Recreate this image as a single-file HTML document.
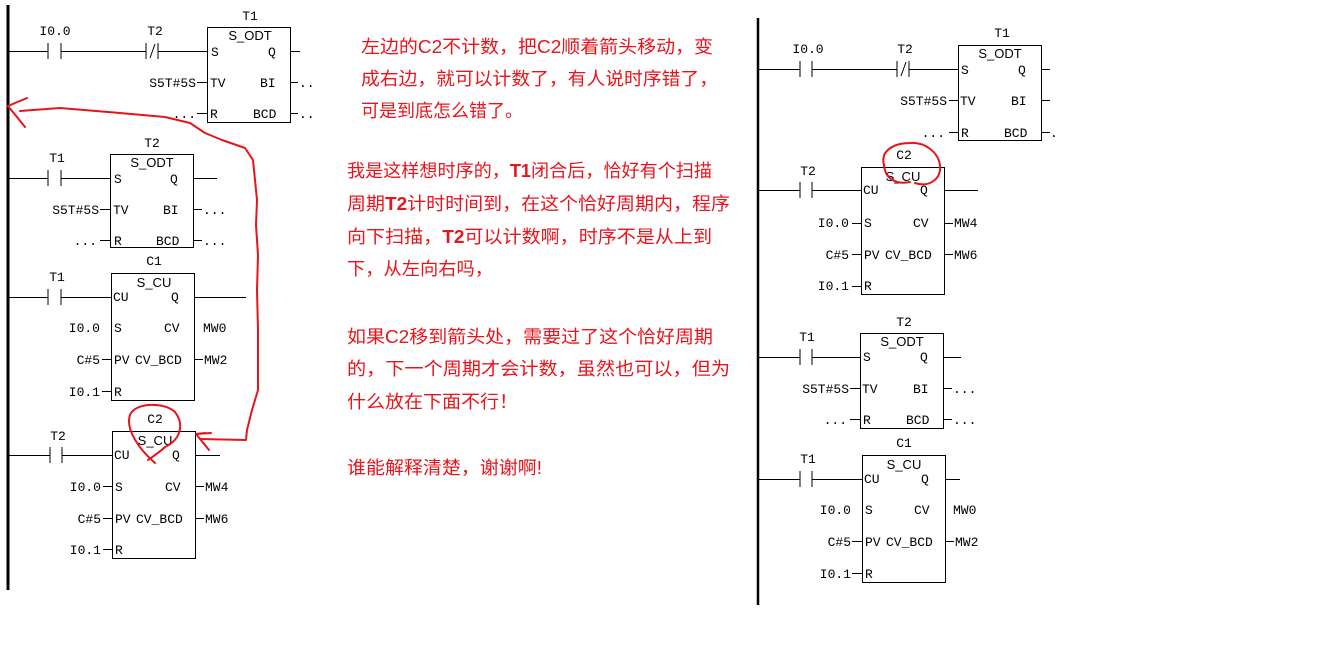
<!DOCTYPE html>
<html><head><meta charset="utf-8"><style>
html,body{margin:0;padding:0;background:#fff;}
svg{display:block;}
.m{font-family:"Liberation Mono",monospace;font-size:13px;fill:#000;}
.t{font-family:"Liberation Sans",sans-serif;font-size:13px;fill:#000;}
.r{font-family:"Liberation Sans","Noto Sans CJK SC",sans-serif;font-size:18px;fill:#e8141c;}
</style></head><body>
<svg width="1333" height="657" viewBox="0 0 1333 657" xmlns="http://www.w3.org/2000/svg">
<g stroke="#000" stroke-width="1" fill="none">
<line x1="8" y1="5" x2="8" y2="590" stroke-width="3"/>
<line x1="758" y1="18" x2="758" y2="605" stroke-width="2.5"/>

<rect x="207.5" y="27.5" width="83" height="95"/>
<path d="M8 51.5H48M61 51.5H146M158 51.5H207M290 51.5H300M48 43V59M61 43V59M146 43V59M158 43V59M150 58L155 44"/>
<path d="M197 82.5H207M197 113.5H207M290 82.5H298M290 113.5H298"/>
<rect x="110.5" y="154.5" width="83" height="93"/>
<path d="M8 178.5H48M61 178.5H110M193 178.5H217M48 170V186M61 170V186M100 209.5H110M100 240.5H110M193 209.5H202M193 240.5H202"/>
<rect x="111.5" y="273.5" width="83" height="127"/>
<path d="M8 297.5H48M61 297.5H111M194 297.5H246M48 289V305M61 289V305M102 359.5H111M102 391.5H111M194 359.5H203"/>
<rect x="112.5" y="431.5" width="83" height="127"/>
<path d="M8 455.5H50M62 455.5H112M195 455.5H220M50 447V463M62 447V463M103 486.5H112M103 518.5H112M103 549.5H112M195 486.5H204M195 518.5H204"/>

<rect x="958.5" y="45.5" width="83" height="95"/>
<path d="M758 69.5H800M812 69.5H897M909 69.5H958M1041 69.5H1050M800 61V77M812 61V77M897 61V77M909 61V77M901 76L906 62"/>
<path d="M949 100.5H958M949 132.5H958M1041 100.5H1050M1041 132.5H1050"/>
<rect x="861.5" y="167.5" width="83" height="127"/>
<path d="M758 190.5H800M812 190.5H861M944 190.5H978M800 182V198M812 182V198M852 223.5H861M852 254.5H861M852 286.5H861M944 223.5H953M944 254.5H953"/>
<rect x="860.5" y="333.5" width="83" height="95"/>
<path d="M758 357.5H800M812 357.5H860M943 357.5H961M800 349V365M812 349V365M850 388.5H860M850 419.5H860M943 388.5H952M943 419.5H952"/>
<rect x="862.5" y="455.5" width="83" height="127"/>
<path d="M758 479.5H800M812 479.5H862M945 479.5H960M800 471V487M812 471V487M852 541.5H862M852 573.5H862M945 541.5H954"/>
</g>

<g class="m">
<text x="250" y="20" text-anchor="middle">T1</text>
<text x="55" y="35" text-anchor="middle">I0.0</text>
<text x="155" y="35" text-anchor="middle">T2</text>
<text x="211" y="56">S</text><text x="268" y="56">Q</text>
<text x="210" y="87">TV</text><text x="260" y="87">BI</text>
<text x="210" y="118">R</text><text x="253" y="118">BCD</text>
<text x="196" y="87" text-anchor="end">S5T#5S</text>
<text x="196" y="118" text-anchor="end">...</text>
<text x="299" y="87">..</text><text x="299" y="118">..</text>

<text x="152" y="147" text-anchor="middle">T2</text>
<text x="57" y="162" text-anchor="middle">T1</text>
<text x="114" y="183">S</text><text x="170" y="183">Q</text>
<text x="113" y="214">TV</text><text x="163" y="214">BI</text>
<text x="114" y="245">R</text><text x="156" y="245">BCD</text>
<text x="99" y="214" text-anchor="end">S5T#5S</text>
<text x="97" y="245" text-anchor="end">...</text>
<text x="203" y="214">...</text><text x="203" y="245">...</text>

<text x="154" y="265" text-anchor="middle">C1</text>
<text x="57" y="281" text-anchor="middle">T1</text>
<text x="113" y="301">CU</text><text x="171" y="301">Q</text>
<text x="114" y="332">S</text><text x="164" y="332">CV</text>
<text x="114" y="364">PV</text><text x="135" y="364">CV_BCD</text>
<text x="114" y="396">R</text>
<text x="100" y="332" text-anchor="end">I0.0</text>
<text x="100" y="364" text-anchor="end">C#5</text>
<text x="100" y="396" text-anchor="end">I0.1</text>
<text x="203" y="332">MW0</text><text x="204" y="364">MW2</text>

<text x="155" y="423" text-anchor="middle">C2</text>
<text x="58" y="440" text-anchor="middle">T2</text>
<text x="114" y="459">CU</text><text x="172" y="459">Q</text>
<text x="115" y="491">S</text><text x="165" y="491">CV</text>
<text x="115" y="523">PV</text><text x="136" y="523">CV_BCD</text>
<text x="115" y="554">R</text>
<text x="101" y="491" text-anchor="end">I0.0</text>
<text x="101" y="523" text-anchor="end">C#5</text>
<text x="101" y="554" text-anchor="end">I0.1</text>
<text x="205" y="491">MW4</text><text x="205" y="523">MW6</text>
</g>
<g class="t">
<text x="250" y="40" text-anchor="middle">S_ODT</text>
<text x="152" y="167" text-anchor="middle">S_ODT</text>
<text x="154" y="287" text-anchor="middle">S_CU</text>
<text x="155" y="445" text-anchor="middle">S_CU</text>
<text x="1000" y="58" text-anchor="middle">S_ODT</text>
<text x="903" y="181" text-anchor="middle">S_CU</text>
<text x="902" y="346" text-anchor="middle">S_ODT</text>
<text x="904" y="469" text-anchor="middle">S_CU</text>
</g>

<g class="m">
<text x="1002" y="37" text-anchor="middle">T1</text>
<text x="808" y="53" text-anchor="middle">I0.0</text>
<text x="905" y="53" text-anchor="middle">T2</text>
<text x="961" y="74">S</text><text x="1018" y="74">Q</text>
<text x="960" y="105">TV</text><text x="1011" y="105">BI</text>
<text x="961" y="137">R</text><text x="1004" y="137">BCD</text>
<text x="947" y="105" text-anchor="end">S5T#5S</text>
<text x="945" y="137" text-anchor="end">...</text>
<text x="1050" y="137">.</text>

<text x="904" y="159" text-anchor="middle">C2</text>
<text x="808" y="175" text-anchor="middle">T2</text>
<text x="863" y="194">CU</text><text x="920" y="194">Q</text>
<text x="864" y="227">S</text><text x="913" y="227">CV</text>
<text x="864" y="259">PV</text><text x="885" y="259">CV_BCD</text>
<text x="864" y="290">R</text>
<text x="849" y="227" text-anchor="end">I0.0</text>
<text x="849" y="259" text-anchor="end">C#5</text>
<text x="849" y="290" text-anchor="end">I0.1</text>
<text x="954" y="227">MW4</text><text x="954" y="259">MW6</text>

<text x="904" y="326" text-anchor="middle">T2</text>
<text x="807" y="341" text-anchor="middle">T1</text>
<text x="863" y="361">S</text><text x="920" y="361">Q</text>
<text x="862" y="393">TV</text><text x="913" y="393">BI</text>
<text x="863" y="424">R</text><text x="906" y="424">BCD</text>
<text x="849" y="393" text-anchor="end">S5T#5S</text>
<text x="847" y="424" text-anchor="end">...</text>
<text x="953" y="393">...</text><text x="953" y="424">...</text>

<text x="904" y="447" text-anchor="middle">C1</text>
<text x="808" y="463" text-anchor="middle">T1</text>
<text x="864" y="483">CU</text><text x="921" y="483">Q</text>
<text x="865" y="514">S</text><text x="914" y="514">CV</text>
<text x="865" y="546">PV</text><text x="886" y="546">CV_BCD</text>
<text x="865" y="578">R</text>
<text x="851" y="514" text-anchor="end">I0.0</text>
<text x="851" y="546" text-anchor="end">C#5</text>
<text x="851" y="578" text-anchor="end">I0.1</text>
<text x="953" y="514">MW0</text><text x="955" y="546">MW2</text>
</g>

<g stroke="#e8141c" fill="none" stroke-width="2" stroke-linecap="round" stroke-linejoin="round">
<path d="M205 433L196 434L209 450M196 434L211 433"/>
<path d="M200 439L246 440L247 430L252 410L258 390L258 330L257 290L258 255L256 225L257 200L253 160L245 148L222 140L205 133L190 123L165 117L120 113L60 108L20 111"/>
<path d="M27 98L8 106L25 127"/>
<path d="M155 463C140 450 125 430 130 415C135 402 165 402 175 412C185 425 180 440 165 447C160 452 152 457 148 460"/>
<path d="M910 182C895 185 885 178 884 165C880 150 895 143 910 143C925 142 938 152 940 165C942 178 930 188 915 183"/>
</g>

<g class="r">
<text x="361" y="53" textLength="352" lengthAdjust="spacingAndGlyphs">左边的C2不计数，把C2顺着箭头移动，变</text>
<text x="361" y="85" textLength="357" lengthAdjust="spacingAndGlyphs">成右边，就可以计数了，有人说时序错了，</text>
<text x="361" y="117" textLength="162" lengthAdjust="spacingAndGlyphs">可是到底怎么错了。</text>
<text x="347" y="177" textLength="365" lengthAdjust="spacingAndGlyphs">我是这样想时序的，<tspan font-weight="bold">T1</tspan>闭合后，恰好有个扫描</text>
<text x="347" y="210" textLength="383" lengthAdjust="spacingAndGlyphs">周期<tspan font-weight="bold">T2</tspan>计时时间到，在这个恰好周期内，程序</text>
<text x="347" y="243" textLength="365" lengthAdjust="spacingAndGlyphs">向下扫描，<tspan font-weight="bold">T2</tspan>可以计数啊，时序不是从上到</text>
<text x="347" y="275" textLength="146" lengthAdjust="spacingAndGlyphs">下，从左向右吗，</text>
<text x="347" y="343" textLength="366" lengthAdjust="spacingAndGlyphs">如果C2移到箭头处，需要过了这个恰好周期</text>
<text x="347" y="375" textLength="383" lengthAdjust="spacingAndGlyphs">的，下一个周期才会计数，虽然也可以，但为</text>
<text x="347" y="408" textLength="171" lengthAdjust="spacingAndGlyphs">什么放在下面不行！</text>
<text x="347" y="474" textLength="195" lengthAdjust="spacingAndGlyphs">谁能解释清楚，谢谢啊!</text>
</g>
</svg>
</body></html>
